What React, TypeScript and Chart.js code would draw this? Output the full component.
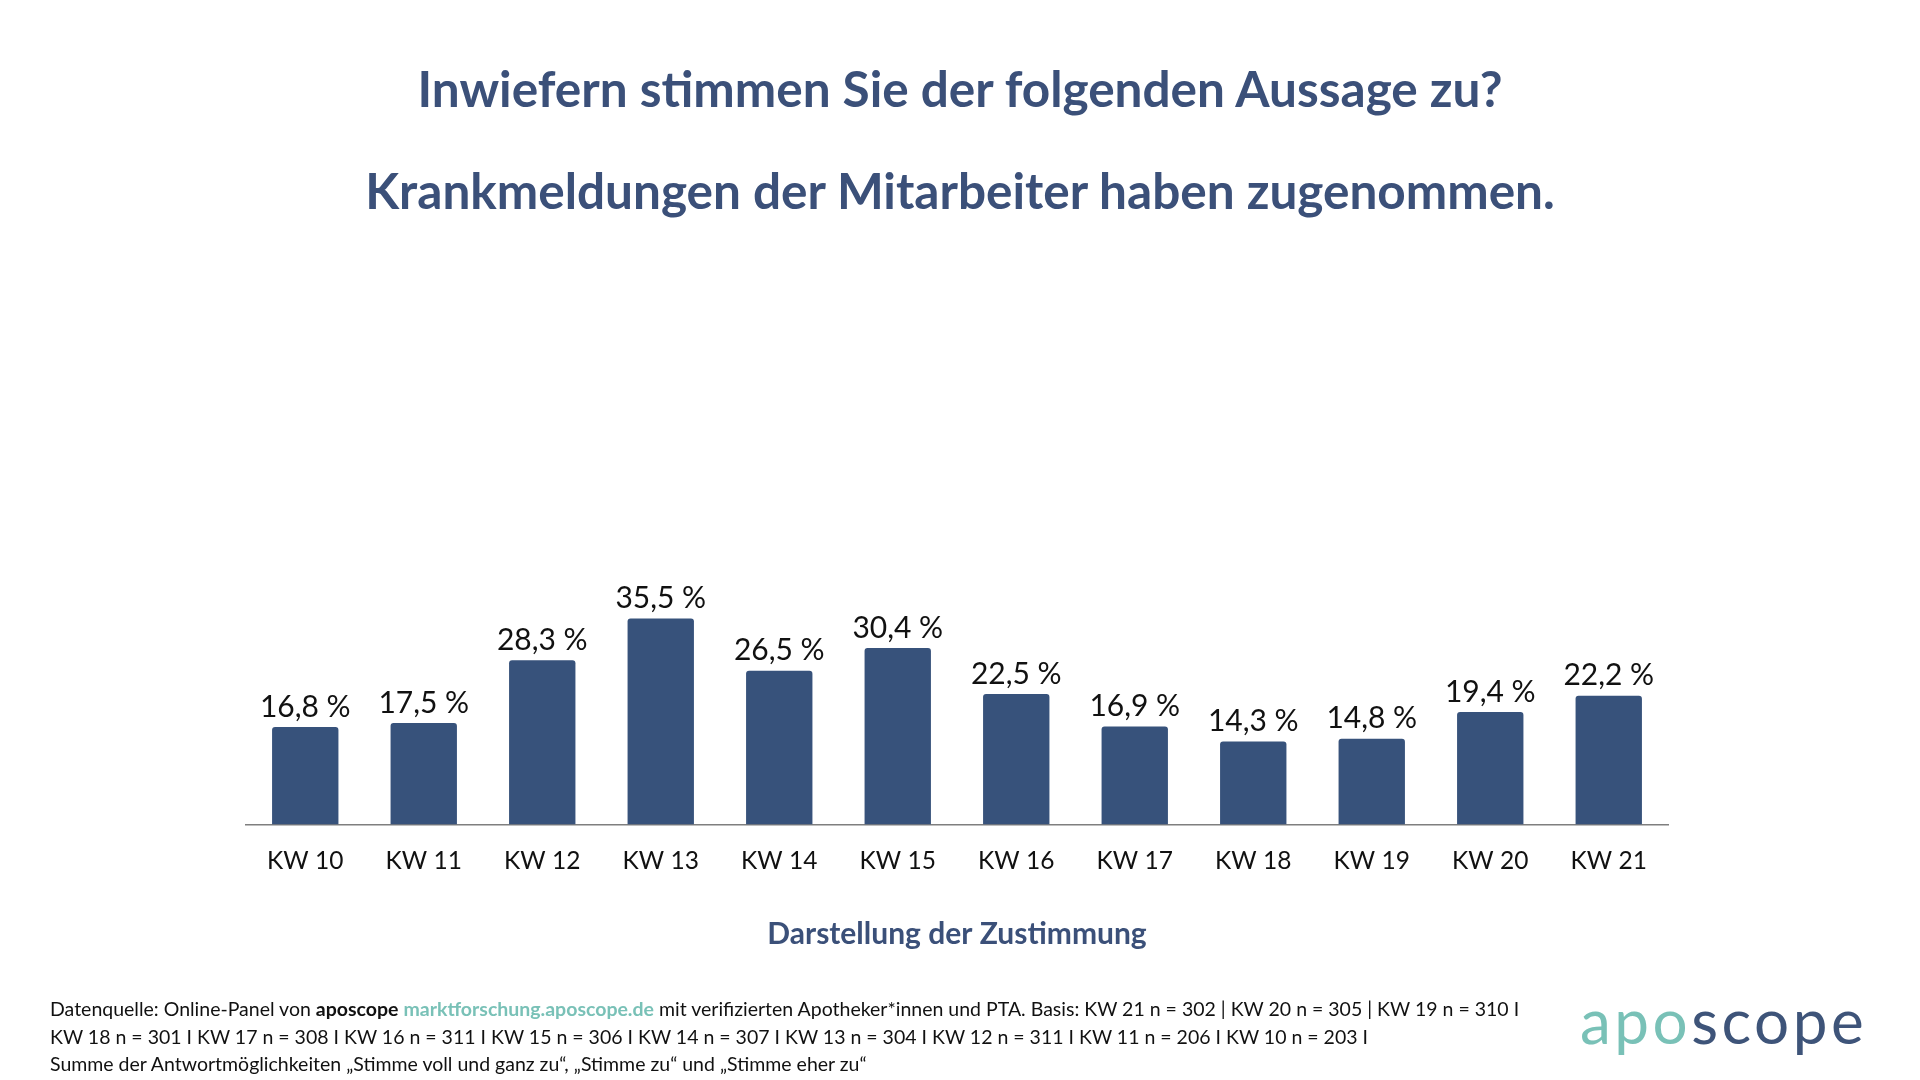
import React, { useEffect, useRef } from "react";
import { Chart, registerables } from "chart.js";

Chart.register(...registerables);

const categories = ["KW 10", "KW 11", "KW 12", "KW 13", "KW 14", "KW 15", "KW 16", "KW 17", "KW 18", "KW 19", "KW 20", "KW 21"];
const values = [16.8, 17.5, 28.3, 35.5, 26.5, 30.4, 22.5, 16.9, 14.3, 14.8, 19.4, 22.2];
const titleLines = ["Inwiefern stimmen Sie der folgenden Aussage zu?", "Krankmeldungen der Mitarbeiter haben zugenommen."];
const axisTitle = "Darstellung der Zustimmung";
const footerLine2 = "KW 18 n = 301 I KW 17 n = 308 I KW 16 n = 311 I KW 15 n = 306 I KW 14 n = 307 I KW 13 n = 304 I KW 12 n = 311 I KW 11 n = 206 I KW 10 n = 203 I";
const footerLine3 = "Summe der Antwortmöglichkeiten „Stimme voll und ganz zu“, „Stimme zu“ und „Stimme eher zu“";

const NAVY = "#37527b";
const TITLE = "#3b5079";
const TEAL = "#79c1b7";
const FONT = "Lato, 'Noto Sans', sans-serif";

const fmt = (v: number) => v.toFixed(1).replace(".", ",") + " %";

const labelPlugin = {
  id: "barLabels",
  afterDatasetsDraw(chart: any) {
    const ctx = chart.ctx;
    const meta = chart.getDatasetMeta(0);
    ctx.save();
    ctx.font = `400 30px ${FONT}`;
    ctx.fillStyle = "#111";
    ctx.textAlign = "center";
    ctx.textBaseline = "bottom";
    meta.data.forEach((bar: any, i: number) => {
      ctx.fillText(fmt(values[i]), bar.x, bar.y - 5);
    });
    ctx.restore();
  },
};

export default function App() {
  const ref = useRef<HTMLCanvasElement>(null);
  useEffect(() => {
    if (!ref.current) return;
    const chart = new Chart(ref.current, {
      type: "bar",
      data: {
        labels: categories,
        datasets: [
          {
            data: values,
            backgroundColor: NAVY,
            borderRadius: { topLeft: 3, topRight: 3, bottomLeft: 0, bottomRight: 0 },
            borderSkipped: false,
            barPercentage: 0.56,
            categoryPercentage: 1,
          },
        ],
      },
      options: {
        animation: false,
        responsive: false,
        devicePixelRatio: 1,
        layout: { padding: { left: 246, right: 252, top: 244, bottom: 128 } },
        plugins: { legend: { display: false }, tooltip: { enabled: false }, title: { display: false } },
        scales: {
          y: { display: false, min: 0, max: 100 },
          x: {
            grid: { display: false, drawTicks: false, tickLength: 0 },
            border: { display: true, color: "#7f7f7f", width: 1.5 },
            ticks: { color: "#111", font: { family: FONT, size: 24.5, lineHeight: 1.2 }, padding: 22 },
            title: {
              display: true,
              text: axisTitle,
              color: TITLE,
              font: { family: FONT, size: 30, weight: "bold", lineHeight: 1.2 },
              padding: { top: 18, bottom: 0 },
            },
          },
        },
      },
      plugins: [labelPlugin],
    });
    return () => chart.destroy();
  }, []);

  const titleStyle = (top: number): React.CSSProperties => ({
    position: "absolute",
    left: 0,
    width: 1920,
    top,
    height: 60,
    lineHeight: "60px",
    textAlign: "center",
    fontFamily: FONT,
    fontWeight: 700,
    fontSize: 49.5,
    color: TITLE,
    whiteSpace: "nowrap",
  });
  const footStyle = (top: number): React.CSSProperties => ({
    position: "absolute",
    left: 50,
    top,
    height: 27,
    lineHeight: "27px",
    fontFamily: FONT,
    fontSize: 19.5,
    color: "#111",
    whiteSpace: "nowrap",
  });

  return (
    <div style={{ position: "absolute", left: 0, top: 0, width: 1920, height: 1080, background: "#fff", overflow: "hidden" }}>
      <canvas ref={ref} width={1920} height={1080} style={{ position: "absolute", left: 0, top: 0, width: 1920, height: 1080 }} />
      <div style={titleStyle(58)}>{titleLines[0]}</div>
      <div style={titleStyle(160)}>{titleLines[1]}</div>
      <div style={footStyle(995)}>
        Datenquelle: Online-Panel von <b>aposcope</b> <b style={{ color: TEAL }}>marktforschung.aposcope.de</b> mit verifizierten Apotheker*innen und PTA. Basis: KW 21 n = 302 | KW 20 n = 305 | KW 19 n = 310 I
      </div>
      <div style={footStyle(1023)}>{footerLine2}</div>
      <div style={footStyle(1050)}>{footerLine3}</div>
      <div
        style={{
          position: "absolute",
          left: 1580,
          top: 984,
          height: 72,
          lineHeight: "72px",
          fontFamily: FONT,
          fontSize: 62,
          fontWeight: 400,
          letterSpacing: 3.5,
          whiteSpace: "nowrap",
        }}
      >
        <span style={{ color: TEAL }}>apo</span>
        <span style={{ color: "#3e5479" }}>scope</span>
      </div>
    </div>
  );
}
